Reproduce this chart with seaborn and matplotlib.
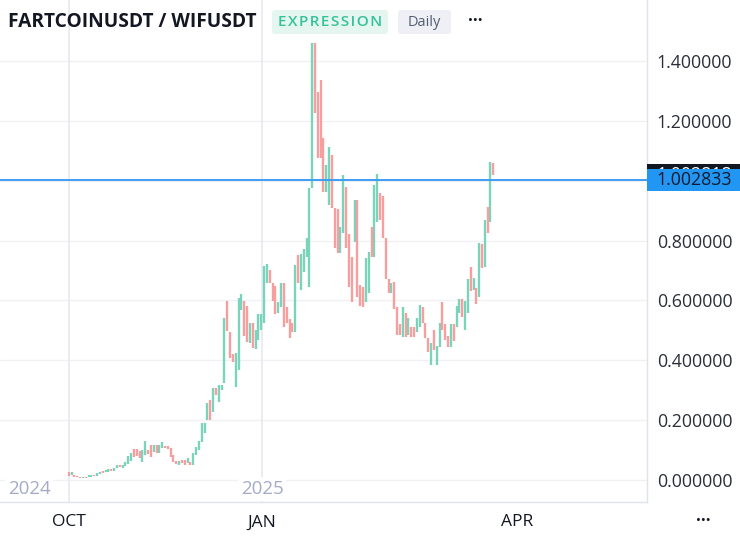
# FARTCOINUSDT / WIFUSDT daily expression chart
import numpy as np
import pandas as pd
import seaborn as sns
import matplotlib.pyplot as plt
from matplotlib.patches import Rectangle, FancyBboxPatch
from matplotlib.transforms import blended_transform_factory

# Data (one value per daily bar)
opens = [
    0.027, 0.017, 0.017, 0.013, 0.010, 0.007, 0.010, 0.009, 0.010, 0.017,
    0.014, 0.019, 0.030, 0.027, 0.028, 0.036, 0.030, 0.039, 0.051, 0.041,
    0.046, 0.055, 0.064, 0.104, 0.104, 0.098, 0.061, 0.085, 0.100, 0.117,
    0.094, 0.117, 0.090, 0.107, 0.114, 0.114, 0.107, 0.084, 0.063, 0.050,
    0.067, 0.067, 0.057, 0.060, 0.050, 0.084, 0.100, 0.127, 0.157, 0.200,
    0.267, 0.227, 0.307, 0.260, 0.300, 0.324, 0.598, 0.494, 0.421, 0.311,
    0.368, 0.568, 0.598, 0.581, 0.458, 0.525, 0.438, 0.468, 0.501, 0.525,
    0.658, 0.702, 0.658, 0.648, 0.558, 0.578, 0.658, 0.578, 0.538, 0.525,
    0.494, 0.752, 0.635, 0.695, 0.745, 0.645, 0.976, 1.460, 1.296, 1.336,
    1.143, 0.962, 0.919, 1.086, 0.909, 0.905, 0.758, 0.825, 0.979, 0.822,
    0.745, 0.795, 0.935, 0.651, 0.645, 0.595, 0.625, 0.845, 0.745, 0.862,
    0.959, 0.949, 0.809, 0.672, 0.625, 0.661, 0.578, 0.521, 0.478, 0.558,
    0.484, 0.511, 0.511, 0.494, 0.511, 0.578, 0.525, 0.474, 0.384, 0.501,
    0.384, 0.444, 0.595, 0.521, 0.481, 0.444, 0.521, 0.511, 0.558, 0.605,
    0.501, 0.558, 0.712, 0.635, 0.641, 0.611, 0.788, 0.712, 0.912, 0.862,
    1.059,
]
closes = [
    0.013, 0.027, 0.010, 0.010, 0.007, 0.010, 0.007, 0.016, 0.016, 0.012,
    0.023, 0.027, 0.023, 0.033, 0.036, 0.030, 0.041, 0.051, 0.044, 0.051,
    0.061, 0.080, 0.090, 0.078, 0.080, 0.073, 0.100, 0.130, 0.087, 0.077,
    0.117, 0.090, 0.117, 0.127, 0.107, 0.104, 0.077, 0.060, 0.053, 0.063,
    0.057, 0.050, 0.073, 0.050, 0.090, 0.110, 0.130, 0.190, 0.190, 0.257,
    0.200, 0.307, 0.284, 0.317, 0.317, 0.540, 0.498, 0.408, 0.394, 0.424,
    0.608, 0.621, 0.481, 0.461, 0.525, 0.441, 0.501, 0.555, 0.555, 0.715,
    0.722, 0.658, 0.598, 0.555, 0.595, 0.658, 0.511, 0.525, 0.474, 0.494,
    0.718, 0.658, 0.755, 0.772, 0.809, 0.976, 1.460, 1.226, 1.076, 1.076,
    0.962, 1.052, 1.113, 0.909, 0.775, 0.758, 0.845, 1.019, 0.775, 0.645,
    0.595, 0.935, 0.611, 0.581, 0.578, 0.742, 0.762, 0.745, 0.986, 1.022,
    0.869, 0.809, 0.672, 0.625, 0.658, 0.571, 0.484, 0.484, 0.578, 0.478,
    0.541, 0.478, 0.478, 0.541, 0.585, 0.525, 0.474, 0.428, 0.458, 0.434,
    0.448, 0.525, 0.501, 0.468, 0.444, 0.521, 0.464, 0.581, 0.605, 0.545,
    0.598, 0.672, 0.631, 0.675, 0.588, 0.792, 0.708, 0.869, 0.825, 1.062,
    1.019,
]

month_ticks = [0.1, 68.3, 158.4]
month_labels = ["OCT", "JAN", "APR"]
year_pos = [-14.0, 68.3]
year_labels = ["2024", "2025"]
price_ticks = [0.0, 0.2, 0.4, 0.6, 0.8, 1.0, 1.2, 1.4]
expr_value = 1.002833
last_label = "1.002818"

df = pd.DataFrame({"open": opens, "close": closes})
df["bar"] = np.arange(len(df))
df["up"] = df["close"] >= df["open"]

sns.set_theme(style="white")
plt.rcParams['font.family'] = ['Open Sans', 'DejaVu Sans']

W, H = 740, 539
fig = plt.figure(figsize=(W / 100, H / 100), dpi=100)
ax = fig.add_axes([0, 37 / H, 647 / W, 502 / H])

green = "#7ad3bb"
red = "#f79f9f"

# grid
for t in price_ticks:
    ax.axhline(t, color="#f0f1f5", lw=1, zorder=0)
for x in month_ticks[:2]:
    ax.axvline(x, color="#e8eaf3", lw=1.3, zorder=0)

# candles
up = df[df["up"]]
dn = df[~df["up"]]
ax.vlines(up["bar"], up["open"], up["close"], color=green, lw=1.7, zorder=2)
ax.vlines(dn["bar"], dn["close"], dn["open"], color=red, lw=1.7, zorder=2)

# expression line
ax.axhline(expr_value, color="#3d9df3", lw=1.4, zorder=3)

ax.set_xlim(-24.3, 204.3)
ax.set_ylim(-0.0735, 1.6037)

sns.despine(ax=ax, left=True, top=True, right=False, bottom=False)
for s in ["right", "bottom"]:
    ax.spines[s].set_color("#e0e3eb")
    ax.spines[s].set_linewidth(1)

ax.yaxis.tick_right()
ax.set_yticks(price_ticks)
ax.set_yticklabels([f"{v:.6f}" for v in price_ticks])
ax.tick_params(axis="y", length=0, pad=7, labelsize=12.8, labelcolor="#2a2e39")
ax.set_xticks(month_ticks)
ax.set_xticklabels(month_labels)
ax.tick_params(axis="x", length=0, pad=9, labelsize=12.5, labelcolor="#131722")

for x, lab in zip(year_pos, year_labels):
    ax.text(x, -0.03, lab, ha="center", va="center", fontsize=13.5,
            color="#a4abc6", zorder=4,
            bbox=dict(fc="white", ec="none", pad=2))

# price labels on the right axis
tr = blended_transform_factory(fig.transFigure, ax.transData)
hh = 22 / 299.3
last_close = closes[-1]
fig.add_artist(Rectangle((647 / W, last_close - hh / 2), (W - 647) / W, hh,
                         transform=tr, fc="#131722", ec="none", zorder=1))
fig.add_artist(plt.Text(656 / W, last_close, last_label, transform=tr,
                        color="white", fontsize=12.8, va="center", zorder=2))
fig.add_artist(Rectangle((647 / W, expr_value - hh / 2), (W - 647) / W, hh,
                         transform=tr, fc="#2196f3", ec="none", zorder=3))
fig.add_artist(plt.Text(656 / W, expr_value, f"{expr_value:.6f}", transform=tr,
                        color="#0e1a2e", fontsize=12.8, va="center", zorder=4))

# header
fig.text(8 / W, 1 - 22 / H, "FARTCOINUSDT / WIFUSDT", fontsize=13.8,
         fontweight="bold", color="#131722", va="center")
fig.add_artist(FancyBboxPatch((272 / W, 1 - 34 / H), 116 / W, 24 / H,
                              boxstyle="round,pad=0,rounding_size=0.005",
                              transform=fig.transFigure, fc="#e4f6ef", ec="none"))
fig.text(330 / W, 1 - 22 / H, "E X P R E S S I O N".replace(" ", "\u200a"),
         fontsize=11, color="#36c298", ha="center", va="center",
         fontweight="semibold")
fig.add_artist(FancyBboxPatch((398 / W, 1 - 34 / H), 53 / W, 24 / H,
                              boxstyle="round,pad=0,rounding_size=0.005",
                              transform=fig.transFigure, fc="#eef0f5", ec="none"))
fig.text(424.5 / W, 1 - 22 / H, "Daily", fontsize=10.5, color="#555d72",
         ha="center", va="center")
fig.text(475 / W, 1 - 21 / H, "···", fontsize=12, color="#131722",
         ha="center", va="center", fontweight="bold")
fig.text(703 / W, 1 - 521 / H, "···", fontsize=12, color="#131722",
         ha="center", va="center", fontweight="bold")

fig.savefig("out.png", dpi=100)
